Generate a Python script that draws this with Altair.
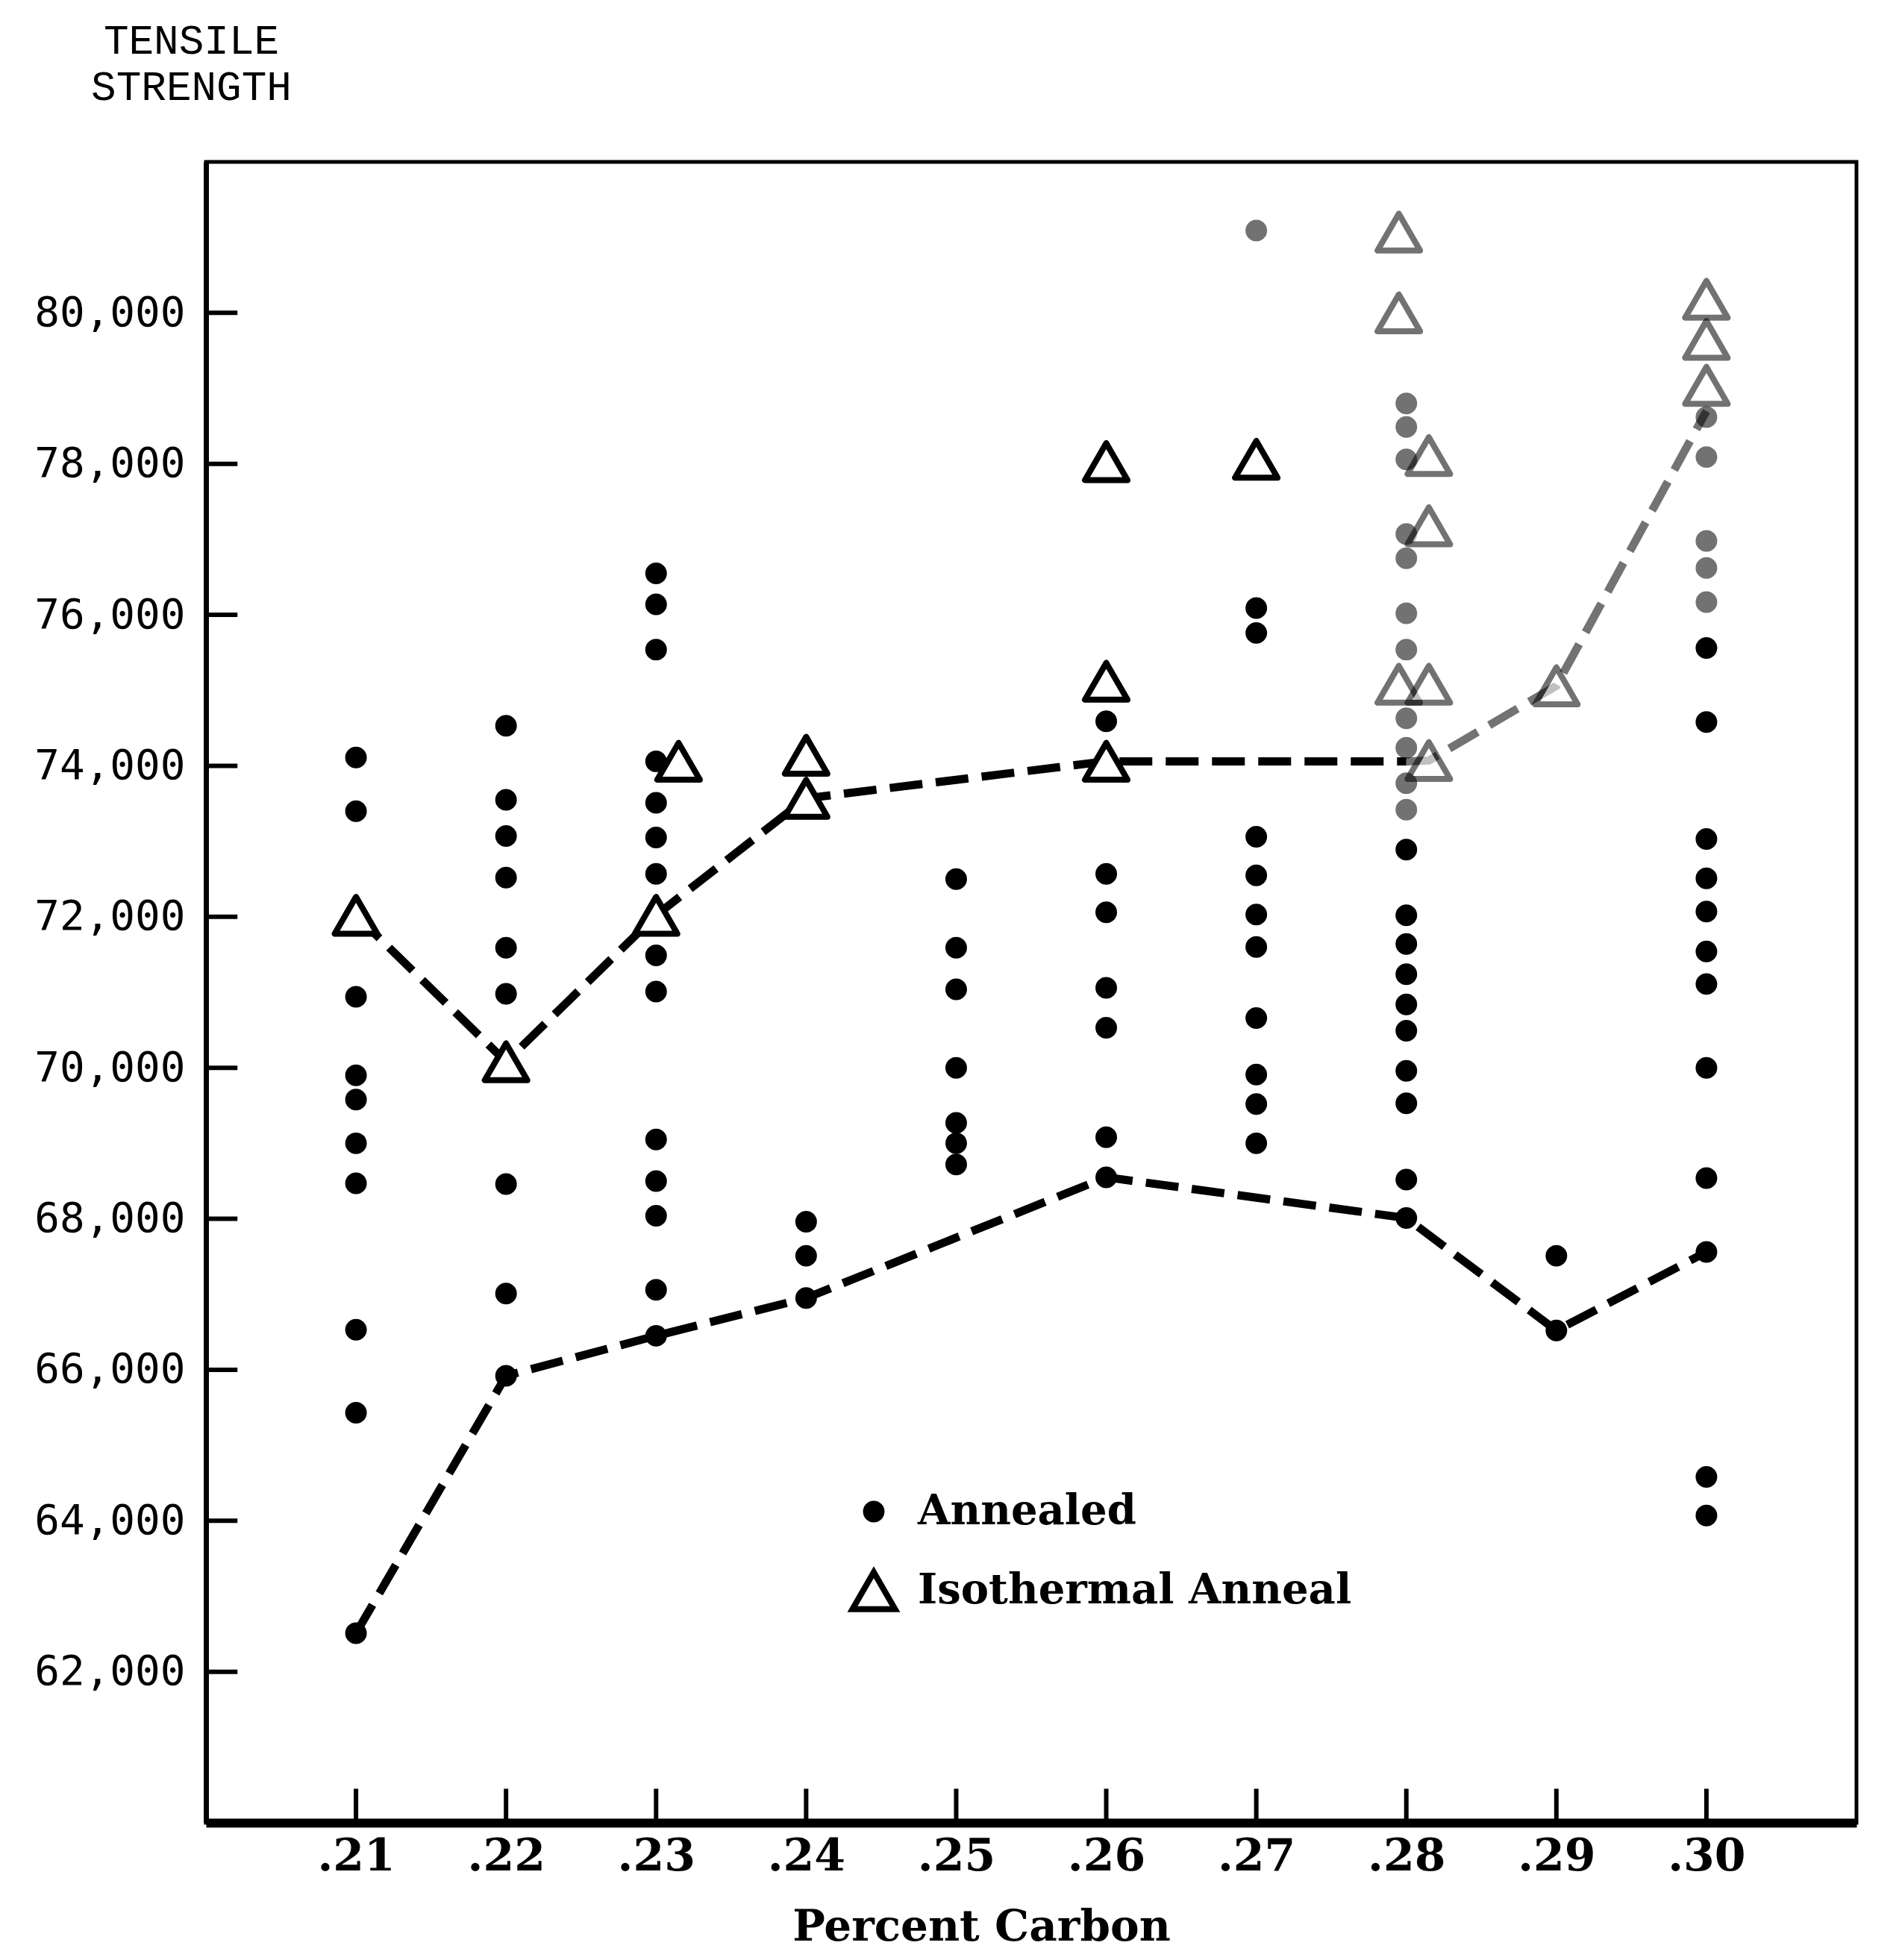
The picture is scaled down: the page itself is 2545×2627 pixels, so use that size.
import altair as alt
import pandas as pd

# ---- axis ticks ----
carbon_ticks = [0.21, 0.22, 0.23, 0.24, 0.25, 0.26, 0.27, 0.28, 0.29, 0.30]
strength_ticks = [62000, 64000, 66000, 68000, 70000, 72000, 74000, 76000, 78000, 80000]

# ---- Annealed (filled dots), per carbon column ----
ann_021 = [74110, 73400, 70940, 69900, 69580, 69000, 68470, 66530, 65430, 62510]
ann_022 = [74530, 73550, 73070, 72520, 71590, 70980, 68460, 67010, 65920]
ann_023 = [76550, 76140, 75540, 74060, 73510, 73050, 72570, 71490, 71010, 69050, 68500, 68040, 67060, 66450]
ann_024 = [67960, 67510, 66950]
ann_025 = [72500, 71590, 71040, 70000, 69270, 69000, 68720]
ann_026 = [74590, 72570, 72060, 71060, 70530, 69080, 68550]
ann_027 = [76090, 75760, 73060, 72550, 72030, 71600, 70660, 69910, 69520, 69000]
ann_027_light = [81090]
ann_028_light = [78800, 78490, 78060, 77070, 76750, 76020, 75540, 74630, 74240, 73770, 73420]
ann_028 = [72890, 72020, 71640, 71240, 70840, 70490, 69960, 69530, 68520, 68010]
ann_029 = [67510, 66520]
ann_030_light = [78620, 78090, 76980, 76620, 76170]
ann_030 = [75560, 74580, 73030, 72510, 72070, 71540, 71110, 70000, 68540, 67560, 64580, 64070]

# ---- Isothermal Anneal (open triangles) ----
iso_021 = [72020]
iso_022 = [70080]
iso_023 = [72020]
iso_0232 = [74060]
iso_024 = [74140, 73570]
iso_026 = [78030, 75120, 74060]
iso_027 = [78060]
iso_028_light = [81070, 80000, 75080]
iso_0282_light = [78110, 77180, 75080, 74070]
iso_029_light = [75060]
iso_030_light = [80180, 79650, 79040]

# ---- dashed curves ----
upper_carbon = [0.21, 0.22, 0.23, 0.24, 0.26, 0.28]
upper_strength = [72020, 70080, 72020, 73570, 74060, 74060]
upper2_carbon = [0.28, 0.2815, 0.29, 0.30]
upper2_strength = [74060, 74070, 75060, 78700]
lower_carbon = [0.21, 0.22, 0.23, 0.24, 0.26, 0.28, 0.29, 0.30]
lower_strength = [62510, 65920, 66450, 66950, 68550, 68010, 66520, 67560]

A, I = "Annealed", "Isothermal Anneal"
groups = [
    (A, 0.21, ann_021, "dark"), (A, 0.22, ann_022, "dark"), (A, 0.23, ann_023, "dark"),
    (A, 0.24, ann_024, "dark"), (A, 0.25, ann_025, "dark"), (A, 0.26, ann_026, "dark"),
    (A, 0.27, ann_027, "dark"), (A, 0.27, ann_027_light, "light"),
    (A, 0.28, ann_028_light, "light"), (A, 0.28, ann_028, "dark"),
    (A, 0.29, ann_029, "dark"), (A, 0.30, ann_030_light, "light"), (A, 0.30, ann_030, "dark"),
    (I, 0.21, iso_021, "dark"), (I, 0.22, iso_022, "dark"), (I, 0.23, iso_023, "dark"),
    (I, 0.2315, iso_0232, "dark"), (I, 0.24, iso_024, "dark"), (I, 0.26, iso_026, "dark"),
    (I, 0.27, iso_027, "dark"), (I, 0.2795, iso_028_light, "light"),
    (I, 0.2815, iso_0282_light, "light"), (I, 0.29, iso_029_light, "light"),
    (I, 0.30, iso_030_light, "light"),
]
rows = []
for s, c, vals, tone in groups:
    for v in vals:
        rows.append({"carbon": c, "strength": v, "series": s, "tone": tone})
pts = pd.DataFrame(rows)

line_rows = []
for seg, cs, vs, tone in [("upper", upper_carbon, upper_strength, "dark"),
                          ("upper2", upper2_carbon, upper2_strength, "light"),
                          ("lower", lower_carbon, lower_strength, "dark")]:
    for c, v in zip(cs, vs):
        line_rows.append({"carbon": c, "strength": v, "segment": seg, "tone": tone})
lines = pd.DataFrame(line_rows)

xticks_df = pd.DataFrame({"carbon": carbon_ticks})
yticks_df = pd.DataFrame({"strength": strength_ticks})

xs = alt.Scale(domain=[0.20, 0.31], nice=False, zero=False)
ys = alt.Scale(domain=[60000, 82000], nice=False, zero=False)

x_axis = alt.Axis(
    values=carbon_ticks, labelExpr="substring(format(datum.value, '.2f'), 1)",
    ticks=False, grid=False, domainWidth=12, domainColor="black",
    labelFont="DejaVu Serif", labelFontSize=60, labelFontWeight="bold",
    labelColor="black", labelPadding=16, labelLimit=0,
    title="Percent Carbon", titleFont="DejaVu Serif", titleFontSize=58,
    titleFontWeight="bold", titleColor="black", titleX=1039, titleY=140,
    titleAlign="center", titleBaseline="middle", titleLimit=0,
)
y_axis = alt.Axis(
    values=strength_ticks, format=",d", ticks=False, grid=False,
    domainWidth=7, domainColor="black",
    labelFont="DejaVu Sans Mono", labelFontSize=56, labelColor="black",
    labelPadding=28, labelLimit=0,
    title=["TENSILE", "STRENGTH"], titleAngle=0, titleX=-20, titleY=-190,
    titleAlign="center", titleBaseline="top", titleFont="Liberation Mono",
    titleFontSize=56, titleFontWeight="normal", titleColor="black",
    titleLineHeight=62, titleLimit=0,
)

X = alt.X("carbon:Q", scale=xs, axis=x_axis)
Y = alt.Y("strength:Q", scale=ys, axis=y_axis)
tone_op = alt.Opacity("tone:N", scale=alt.Scale(domain=["dark", "light"], range=[1.0, 0.55]), legend=None)

line_layer = alt.Chart(lines).mark_line(
    color="black", strokeWidth=11, strokeDash=[44, 18], strokeCap="butt"
).encode(x=X, y=Y, detail="segment:N", opacity=tone_op)

xtick_layer = alt.Chart(xticks_df).mark_rule(color="black", strokeWidth=6).encode(
    x=X, y=alt.datum(60000), y2=alt.datum(60450)
)
ytick_layer = alt.Chart(yticks_df).mark_rule(color="black", strokeWidth=6).encode(
    y=Y, x=alt.datum(0.20), x2=alt.datum(0.2021)
)

legend = alt.Legend(
    orient="none", legendX=862, legendY=1781, direction="vertical", title=None,
    labelFont="DejaVu Serif", labelFontWeight="bold", labelFontSize=56, labelColor="black",
    labelLimit=0, symbolStrokeWidth=8, symbolOpacity=1,
    rowPadding=37, labelOffset=26, padding=0,
)
dom = [A, I]
point_layer = alt.Chart(pts).mark_point(
    strokeWidth=8, strokeJoin="round", opacity=1
).encode(
    x=X, y=Y,
    shape=alt.Shape("series:N", scale=alt.Scale(domain=dom, range=["circle", "triangle-up"]), legend=legend),
    fill=alt.Fill("series:N", scale=alt.Scale(domain=dom, range=["black", "white"]), legend=legend),
    stroke=alt.Stroke("series:N", scale=alt.Scale(domain=dom, range=["black", "black"]), legend=legend),
    size=alt.Size("series:N", scale=alt.Scale(domain=dom, range=[440, 3250]), legend=legend),
    opacity=tone_op,
)

chart = alt.layer(line_layer, xtick_layer, ytick_layer, point_layer).properties(
    width=2212, height=2226,
    autosize=alt.AutoSizeParams(type="none"),
    padding={"left": 268, "top": 209, "right": 45, "bottom": 176},
    background="white",
).configure_view(stroke="black", strokeWidth=5)

chart.save("out.html", embed_options={"renderer": "svg", "actions": False})
